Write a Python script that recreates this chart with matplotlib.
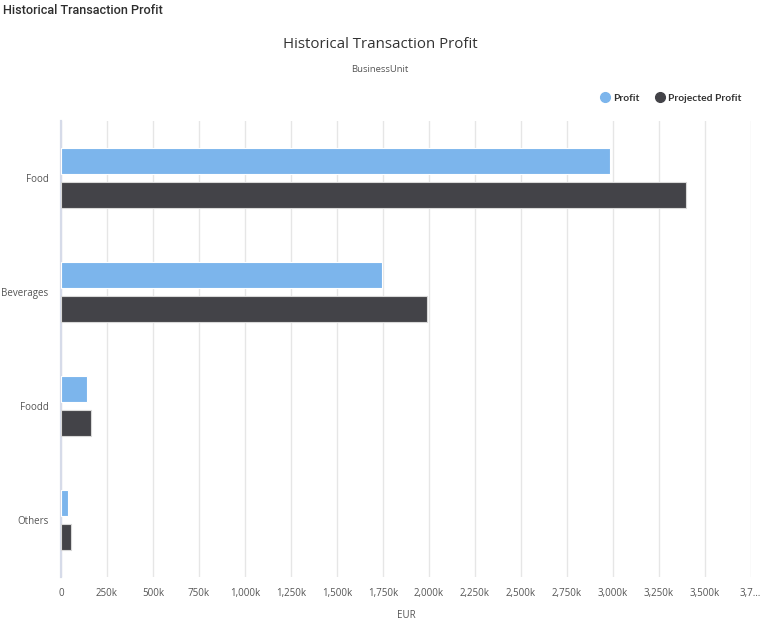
import numpy as np
import matplotlib
matplotlib.use("Agg")
import matplotlib.pyplot as plt
from matplotlib.lines import Line2D

categories = ['Food', 'Beverages', 'Foodd', 'Others']
profit = [2984, 1743, 141, 36]            # in thousands EUR
projected_profit = [3397, 1992, 163, 54]  # in thousands EUR
tick_values = [0, 250, 500, 750, 1000, 1250, 1500, 1750, 2000, 2250, 2500, 2750, 3000, 3250, 3500, 3750]
tick_labels = ['0', '250k', '500k', '750k', '1,000k', '1,250k', '1,500k', '1,750k', '2,000k',
               '2,250k', '2,500k', '2,750k', '3,000k', '3,250k', '3,500k', '3,7…']

profit_color = '#7cb5ec'
projected_color = '#434348'

plt.rcParams['font.family'] = ['Open Sans', 'DejaVu Sans']

fig = plt.figure(figsize=(7.83, 6.22), dpi=100)
ax = fig.add_axes([61 / 783, 45 / 622, (750.7 - 61) / 783, 456 / 622])

y = np.arange(len(categories))
bar_h = 0.235
offset = 0.149
ax.barh(y - offset, profit, height=bar_h, color=profit_color, edgecolor='white', linewidth=0.8, zorder=3)
ax.barh(y + offset, projected_profit, height=bar_h, color=projected_color, edgecolor='#d8d8d8', linewidth=0.8, zorder=3)

ax.set_ylim(len(categories) - 0.5, -0.5)
ax.set_xlim(0, 3750)
ax.set_yticks(y)
ax.set_yticklabels(categories, fontsize=7, color='#555555')
ax.set_xticks(tick_values)
ax.set_xticklabels(tick_labels, fontsize=7, color='#555555')
ax.tick_params(axis='x', length=0, pad=8)
ax.tick_params(axis='y', length=0, pad=9)

ax.grid(axis='x', color='#e6e6e6', linewidth=1, zorder=0)
for s in ['top', 'right', 'bottom']:
    ax.spines[s].set_visible(False)
ax.spines['left'].set_color('#d6dbe9')
ax.spines['left'].set_linewidth(1.6)

ax.set_xlabel('EUR', fontsize=7, color='#555555', labelpad=8)

fig.text(3 / 783, 1 - 11 / 622, 'Historical Transaction Profit', fontsize=9.1, fontweight='medium',
         color='#2e2e2e', va='center', ha='left', family=['Roboto', 'DejaVu Sans'])
fig.text(380 / 783, 1 - 44 / 622, 'Historical Transaction Profit', fontsize=10.8,
         color='#333333', va='center', ha='center')
fig.text(380 / 783, 1 - 69 / 622, 'BusinessUnit', fontsize=6.8,
         color='#555555', va='center', ha='center')

handles = [Line2D([], [], marker='o', linestyle='', markersize=7, color=profit_color),
           Line2D([], [], marker='o', linestyle='', markersize=7, color=projected_color)]
leg = fig.legend(handles, ['Profit', 'Projected Profit'], loc='center right',
                 bbox_to_anchor=(751 / 783, 1 - 98 / 622), ncol=2, frameon=False,
                 prop={'size': 7.4, 'weight': 'bold', 'family': ['Lato', 'DejaVu Sans']},
                 handletextpad=0.3, columnspacing=1.5, handlelength=1.0)
for t in leg.get_texts():
    t.set_color('#333333')

fig.savefig('out.png', dpi=100)
